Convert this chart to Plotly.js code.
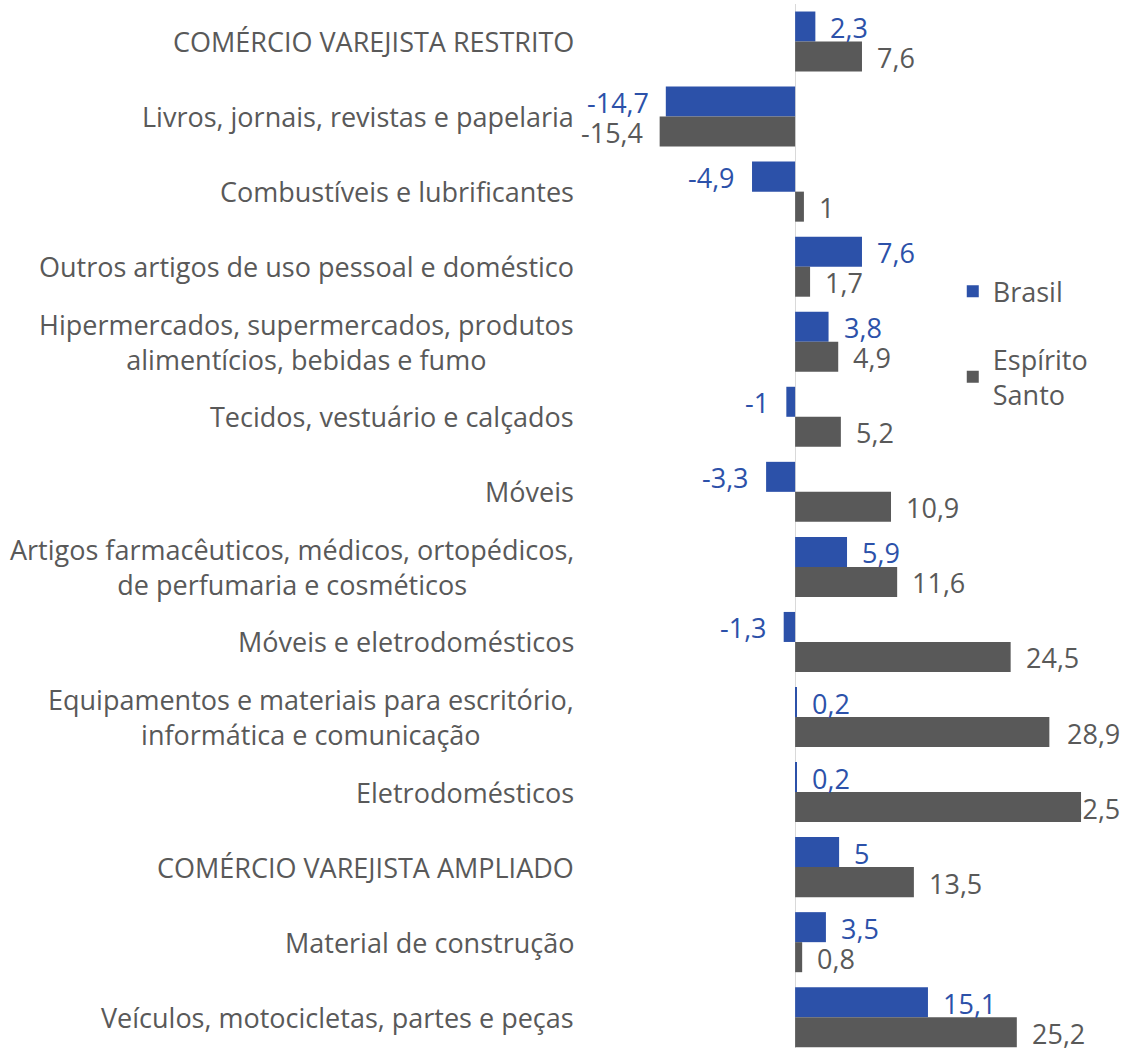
<!DOCTYPE html>
<html>
<head>
<meta charset="utf-8">
<script src="https://cdn.plot.ly/plotly-3.0.1.min.js"></script>
<style>
  html, body { margin: 0; padding: 0; background: #ffffff; }
  #chart { width: 1145px; height: 1048px; }
</style>
</head>
<body>
<div id="chart"></div>
<script>
// ---- Data (top to bottom as in the reference) ----
var categories = [
  "COMÉRCIO VAREJISTA RESTRITO",
  "Livros, jornais, revistas e papelaria",
  "Combustíveis e lubrificantes",
  "Outros artigos de uso pessoal e doméstico",
  "Hipermercados, supermercados, produtos<br>alimentícios, bebidas e fumo",
  "Tecidos, vestuário e calçados",
  "Móveis",
  "Artigos farmacêuticos, médicos, ortopédicos,<br>de perfumaria e cosméticos",
  "Móveis e eletrodomésticos",
  "Equipamentos e materiais para escritório,<br>informática e comunicação",
  "Eletrodomésticos",
  "COMÉRCIO VAREJISTA AMPLIADO",
  "Material de construção",
  "Veículos, motocicletas, partes e peças"
];
var brasil = [2.3, -14.7, -4.9, 7.6, 3.8, -1, -3.3, 5.9, -1.3, 0.2, 0.2, 5, 3.5, 15.1];
var espiritoSanto = [7.6, -15.4, 1, 1.7, 4.9, 5.2, 10.9, 11.6, 24.5, 28.9, 32.5, 13.5, 0.8, 25.2];
var seriesNames = ["Brasil", "Espírito<br>Santo"];

// ---- Styles ----
var BLUE = "#2C51A9";
var GRAY = "#595959";
var FONT = "Open Sans, Noto Sans, sans-serif";
var FS = 27;
var W = 1145, H = 1048;
var margin = {l: 584, r: 25, t: 4, b: 0};
var xRange = [-24, 36.93];
var yRange = [13.41, -0.5];

function fmt(v) { return String(v).replace(".", ","); }

var traces = [
  {type: "bar", orientation: "h", name: seriesNames[0], y: categories, x: brasil,
   marker: {color: BLUE}, legendgroup: "a", hoverinfo: "x+y"},
  {type: "bar", orientation: "h", name: seriesNames[1], y: categories, x: espiritoSanto,
   marker: {color: GRAY}, legendgroup: "b", hoverinfo: "x+y"}
];

var annotations = [];
// category labels (centered multi-line blocks, right aligned to plot)
categories.forEach(function (c, i) {
  annotations.push({xref: "paper", yref: "y", x: 0, y: i, text: c, showarrow: false,
    xanchor: "right", yanchor: "middle", align: "center", xshift: -8,
    font: {family: FONT, size: FS, color: GRAY}});
});

// value labels
var plotW = W - margin.l - margin.r;
function addLabels(vals, offset, color) {
  vals.forEach(function (v, i) {
    var txt = fmt(v);
    var endPx = (v - xRange[0]) / (xRange[1] - xRange[0]) * plotW;
    var estW = txt.length * 0.55 * FS;
    var a = {xref: "x", yref: "y", x: v, y: i + offset, text: txt, showarrow: false,
      yanchor: "middle", yshift: -1, font: {family: FONT, size: FS, color: color}};
    if (v >= 0) {
      a.xanchor = "left"; a.xshift = 13;
      if (endPx + 13 + estW > plotW) { a.xref = "paper"; a.x = 1; a.xanchor = "right"; a.xshift = 2; }
    } else {
      a.xanchor = "right"; a.xshift = -15;
    }
    annotations.push(a);
  });
}
addLabels(brasil, -0.2, BLUE);
addLabels(espiritoSanto, 0.2, GRAY);

var layout = {
  width: W, height: H,
  margin: margin,
  paper_bgcolor: "#ffffff", plot_bgcolor: "#ffffff",
  font: {family: FONT, size: FS, color: GRAY},
  barmode: "group", bargap: 0.2, bargroupgap: 0,
  showlegend: true,
  legend: {x: 0.688, y: 0.748, xanchor: "left", yanchor: "top", traceorder: "grouped",
    tracegroupgap: 30, font: {family: FONT, size: FS, color: GRAY}, bgcolor: "rgba(0,0,0,0)"},
  xaxis: {range: xRange, showgrid: false, showticklabels: false, ticks: "",
    zeroline: true, zerolinecolor: "#d9d9d9", zerolinewidth: 1, showline: false, fixedrange: true},
  yaxis: {type: "category", range: yRange, showgrid: false, showticklabels: false, ticks: "",
    showline: false, zeroline: false, fixedrange: true},
  annotations: annotations
};

Plotly.newPlot("chart", traces, layout, {displayModeBar: false, responsive: false});
</script>
</body>
</html>
